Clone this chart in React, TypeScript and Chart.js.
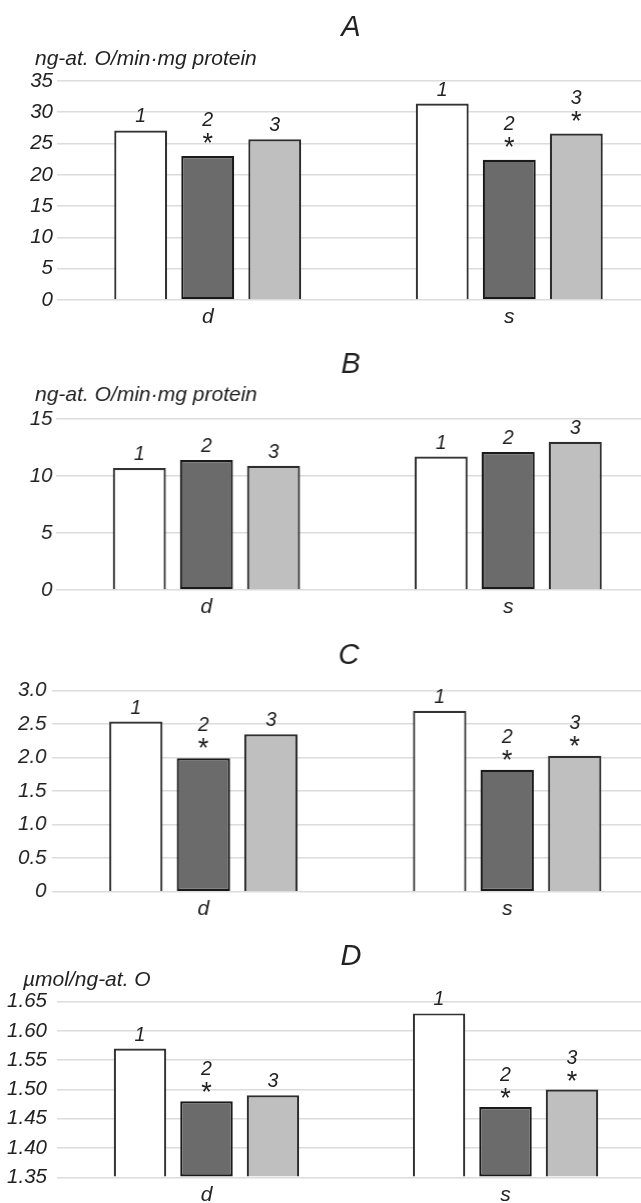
import React, { useEffect, useRef } from "react";
import { Chart, registerables } from "chart.js";

Chart.register(...registerables);

// ---------- data ----------
const CATEGORIES = ["d", "s"];
const SERIES_NAMES = ["1", "2", "3"];

// Panel A
const A_SERIES1 = [27.1, 31.4];
const A_SERIES2 = [23.0, 22.4];
const A_SERIES3 = [25.7, 26.6];
const A_SIG = [
  [false, false],
  [true, true],
  [false, true],
];
const A_TICK_VALUES = [0, 5, 10, 15, 20, 25, 30, 35];
const A_TICK_LABELS = ["0", "5", "10", "15", "20", "25", "30", "35"];

// Panel B
const B_SERIES1 = [10.7, 11.7];
const B_SERIES2 = [11.4, 12.1];
const B_SERIES3 = [10.9, 13.0];
const B_SIG = [
  [false, false],
  [false, false],
  [false, false],
];
const B_TICK_VALUES = [0, 5, 10, 15];
const B_TICK_LABELS = ["0", "5", "10", "15"];

// Panel C
const C_SERIES1 = [2.54, 2.7];
const C_SERIES2 = [1.99, 1.82];
const C_SERIES3 = [2.35, 2.03];
const C_SIG = [
  [false, false],
  [true, true],
  [false, true],
];
const C_TICK_VALUES = [0, 0.5, 1.0, 1.5, 2.0, 2.5, 3.0];
const C_TICK_LABELS = ["0", "0.5", "1.0", "1.5", "2.0", "2.5", "3.0"];

// Panel D
const D_SERIES1 = [1.57, 1.63];
const D_SERIES2 = [1.48, 1.47];
const D_SERIES3 = [1.49, 1.5];
const D_SIG = [
  [false, false],
  [true, true],
  [false, true],
];
const D_TICK_VALUES = [1.35, 1.4, 1.45, 1.5, 1.55, 1.6, 1.65];
const D_TICK_LABELS = ["1.35", "1.40", "1.45", "1.50", "1.55", "1.60", "1.65"];

const UNIT_RATE = "ng-at. O/min·mg protein";
const UNIT_RATIO = "µmol/ng-at. O";

// ---------- styling / layout ----------
const FONT_FAMILY = "'Liberation Sans', Arial, sans-serif";
const TEXT_COLOR = "#222222";
const FILLS = ["#ffffff", "#6b6b6b", "#bfbfbf"];
const BORDERS = ["#333333", "#1a1a1a", "#2e2e2e"];

type PanelCfg = {
  title: string;
  unit: string | null;
  series: number[][];
  sig: boolean[][];
  tickValues: number[];
  tickLabels: string[];
  top: number;
  width: number;
  height: number;
  areaTop: number;
  areaBottom: number;
  areaLeft: number;
  tickPad: number;
  titleY: number;
  unitX: number;
  unitY: number;
  starGap: number;
  numGapStar: number;
  numGap: number;
};

const PANELS: PanelCfg[] = [
  {
    title: "A", unit: UNIT_RATE,
    series: [A_SERIES1, A_SERIES2, A_SERIES3], sig: A_SIG,
    tickValues: A_TICK_VALUES, tickLabels: A_TICK_LABELS,
    top: 0, width: 660, height: 330, areaTop: 81, areaBottom: 300, areaLeft: 57, tickPad: 4,
    titleY: 25.5, unitX: 35, unitY: 65, starGap: 18, numGapStar: 37, numGap: 15,
  },
  {
    title: "B", unit: UNIT_RATE,
    series: [B_SERIES1, B_SERIES2, B_SERIES3], sig: B_SIG,
    tickValues: B_TICK_VALUES, tickLabels: B_TICK_LABELS,
    top: 330, width: 658.5, height: 290, areaTop: 89, areaBottom: 260, areaLeft: 55.5, tickPad: 3,
    titleY: 33, unitX: 35, unitY: 71, starGap: 16, numGapStar: 35, numGap: 15,
  },
  {
    title: "C", unit: null,
    series: [C_SERIES1, C_SERIES2, C_SERIES3], sig: C_SIG,
    tickValues: C_TICK_VALUES, tickLabels: C_TICK_LABELS,
    top: 620, width: 658.5, height: 300, areaTop: 70.7, areaBottom: 271.7, areaLeft: 51.5, tickPad: 5,
    titleY: 34, unitX: 0, unitY: 0, starGap: 15, numGapStar: 34, numGap: 15,
  },
  {
    title: "D", unit: UNIT_RATIO,
    series: [D_SERIES1, D_SERIES2, D_SERIES3], sig: D_SIG,
    tickValues: D_TICK_VALUES, tickLabels: D_TICK_LABELS,
    top: 920, width: 655, height: 283, areaTop: 81.7, areaBottom: 257.3, areaLeft: 57, tickPad: 10,
    titleY: 35, unitX: 23, unitY: 66, starGap: 14, numGapStar: 33, numGap: 15,
  },
];

function drawCentered(ctx: CanvasRenderingContext2D, text: string, x: number, cy: number, font: string) {
  ctx.font = font;
  ctx.textAlign = "center";
  ctx.textBaseline = "alphabetic";
  const m = ctx.measureText(text);
  const asc = m.actualBoundingBoxAscent;
  const desc = m.actualBoundingBoxDescent;
  ctx.fillText(text, x, cy + (asc - desc) / 2);
}

const annotatePlugin = {
  id: "annotate",
  afterDatasetsDraw(chart: any, _args: any, opts: any) {
    const ctx: CanvasRenderingContext2D = chart.ctx;
    ctx.save();
    ctx.fillStyle = TEXT_COLOR;
    const numFont = `italic 19.5px ${FONT_FAMILY}`;
    const starFont = `normal 27px ${FONT_FAMILY}`;
    chart.data.datasets.forEach((_ds: any, i: number) => {
      const meta = chart.getDatasetMeta(i);
      meta.data.forEach((el: any, j: number) => {
        const star = opts.sig[i][j];
        const x = el.x;
        const top = el.y;
        drawCentered(ctx, SERIES_NAMES[i], x, top - (star ? opts.numGapStar : opts.numGap), numFont);
        if (star) drawCentered(ctx, "*", x, top - opts.starGap, starFont);
      });
    });
    const area = chart.chartArea;
    drawCentered(ctx, opts.title, (area.left + 641) / 2 + 2, opts.titleY, `italic 29px ${FONT_FAMILY}`);
    if (opts.unit) {
      ctx.font = `italic 21px ${FONT_FAMILY}`;
      ctx.textAlign = "left";
      ctx.textBaseline = "alphabetic";
      ctx.fillText(opts.unit, opts.unitX, opts.unitY);
    }
    ctx.restore();
  },
};

function Panel({ cfg }: { cfg: PanelCfg }) {
  const ref = useRef<HTMLCanvasElement | null>(null);
  useEffect(() => {
    if (!ref.current) return;
    const base = cfg.tickValues[0];
    const chart = new Chart(ref.current, {
      type: "bar",
      data: {
        labels: CATEGORIES,
        datasets: cfg.series.map((vals, i) => ({
          label: SERIES_NAMES[i],
          data: vals,
          base,
          backgroundColor: FILLS[i],
          borderColor: BORDERS[i],
          borderWidth: 2.2,
          borderSkipped: i === 1 ? false : "start",
          barPercentage: 0.79,
          categoryPercentage: 0.667,
        })) as any,
      },
      options: {
        animation: false,
        responsive: false,
        layout: { padding: { top: cfg.areaTop, left: 0, right: 0, bottom: 0 } },
        plugins: {
          legend: { display: false },
          tooltip: { enabled: false },
          title: { display: false },
          annotate: {
            title: cfg.title,
            unit: cfg.unit,
            unitX: cfg.unitX,
            unitY: cfg.unitY,
            titleY: cfg.titleY,
            sig: cfg.sig,
            starGap: cfg.starGap,
            numGapStar: cfg.numGapStar,
            numGap: cfg.numGap,
          },
        } as any,
        scales: {
          x: {
            grid: { display: false, drawTicks: false },
            border: { display: false },
            ticks: {
              font: { family: FONT_FAMILY, size: 21, style: "italic" },
              color: TEXT_COLOR,
              padding: 5,
            },
            afterFit: (s: any) => {
              s.height = cfg.height - cfg.areaBottom;
            },
          },
          y: {
            min: cfg.tickValues[0],
            max: cfg.tickValues[cfg.tickValues.length - 1],
            grid: { color: "#dcdcdc", lineWidth: 1.6, drawTicks: false },
            border: { display: false },
            ticks: {
              font: { family: FONT_FAMILY, size: 20.5, style: "italic" },
              color: TEXT_COLOR,
              padding: cfg.tickPad,
              callback: (_v: any, idx: number) => cfg.tickLabels[idx],
            },
            afterBuildTicks: (s: any) => {
              s.ticks = cfg.tickValues.map((v) => ({ value: v }));
            },
            afterFit: (s: any) => {
              s.width = cfg.areaLeft;
            },
          },
        } as any,
      },
      plugins: [annotatePlugin],
    });
    return () => chart.destroy();
  }, [cfg]);
  return (
    <canvas
      ref={ref}
      width={cfg.width}
      height={cfg.height}
      style={{ position: "absolute", left: 0, top: cfg.top, width: cfg.width, height: cfg.height }}
    />
  );
}

export default function App() {
  return (
    <div
      style={{
        position: "absolute",
        left: 0,
        top: 0,
        width: 641,
        height: 1203,
        overflow: "hidden",
        background: "#ffffff",
      }}
    >
      {PANELS.map((p) => (
        <Panel key={p.title} cfg={p} />
      ))}
    </div>
  );
}
